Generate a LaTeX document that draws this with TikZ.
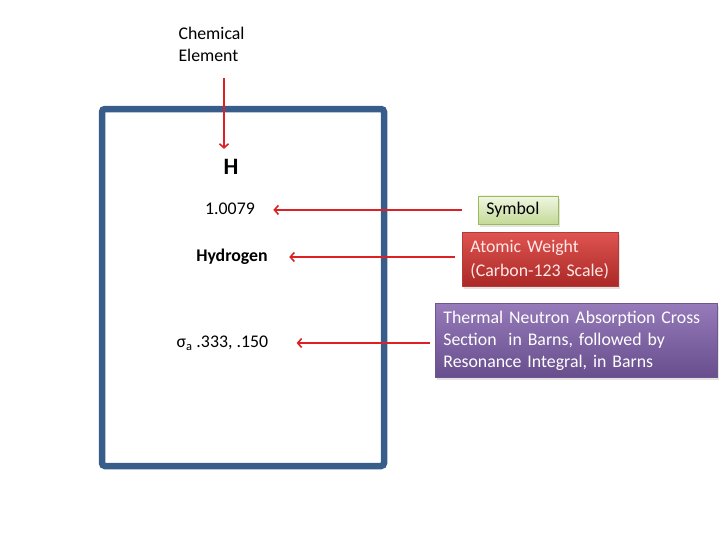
\documentclass[tikz,border=0pt]{standalone}
\usepackage{fontspec}
\setmainfont{Carlito}
\usetikzlibrary{calc,positioning,arrows,arrows.meta,shadows}

\definecolor{framebl}{RGB}{56,93,138}
\definecolor{ptrred}{RGB}{220,32,36}
\definecolor{symtop}{RGB}{240,246,228}
\definecolor{symbot}{RGB}{196,218,150}
\definecolor{symedge}{RGB}{155,187,89}
\definecolor{wttop}{RGB}{222,84,80}
\definecolor{wtbot}{RGB}{170,40,38}
\definecolor{wtedge}{RGB}{180,60,56}
\definecolor{wttext}{RGB}{255,232,230}
\definecolor{prtop}{RGB}{150,122,186}
\definecolor{prbot}{RGB}{104,78,140}
\definecolor{predge}{RGB}{110,86,146}

\begin{document}
\begin{tikzpicture}[x=1pt,y=-1pt,node distance=1cm,auto,>={Straight Barb[length=4pt,width=9pt]},
  every node/.style={font=\fontsize{17.8}{22}\selectfont},
  pointer/.style={->,ptrred,line width=1.6pt},
  infobox/.style={draw,line width=0.8pt,align=left,anchor=north west,inner xsep=8pt,inner ysep=0pt,
    drop shadow={shadow xshift=2pt,shadow yshift=-3pt,opacity=0.22}}]
  \useasboundingbox (0,0) rectangle (728,546);

  \node[draw=framebl,line width=6.5pt,rounded corners=3pt,minimum width=282pt,minimum height=357pt,inner sep=0pt] (frame) at (243,287.5) {};

  %%%%

  \node[anchor=west,align=left] (chem) at (175,44) {Chemical\\Element};
  \coordinate (elem) at (224,78);

  \node[font=\bfseries\fontsize{23.5}{28}\selectfont] (hsym) at (231,167) {H};
  \node (mass) at (230,209) {1.0079};
  \node[font=\bfseries\fontsize{17.8}{22}\selectfont] (name) at (232,257) {Hydrogen};
  \node[anchor=west] (xsec) at (173,343) {σ\textsubscript{a} .333, .150};

  %%%%

  \node[infobox,draw=symedge,top color=symtop,bottom color=symbot,text width=64pt,minimum height=28pt] (sym) at (478,195.5) {Symbol};
  \node[infobox,draw=wtedge,top color=wttop,bottom color=wtbot,text=wttext,text width=140pt,minimum height=54pt,
    font=\fontsize{17.8}{24}\selectfont] (wt) at (462,232) {Atomic Weight\\(Carbon-123 Scale)};
  \node[infobox,draw=predge,top color=prtop,bottom color=prbot,text=white,text width=266pt,minimum height=74pt] (purp) at (435,303)
    {Thermal Neutron Absorption Cross\\Section\ \ in Barns, followed by\\Resonance Integral, in Barns};

  %%%%

  \draw[pointer,shorten >=7pt] (elem) -- (elem |- hsym.north);
  \draw[pointer,shorten <=16pt,shorten >=15pt] (sym.west) -- (sym.west -| mass.east);
  \draw[pointer,shorten <=7pt,shorten >=18pt] (wt.west |- name.east) -- (name.east);
  \draw[pointer,shorten <=5pt,shorten >=25pt] (purp.west |- xsec.east) -- (xsec.east);

\end{tikzpicture}
\end{document}
